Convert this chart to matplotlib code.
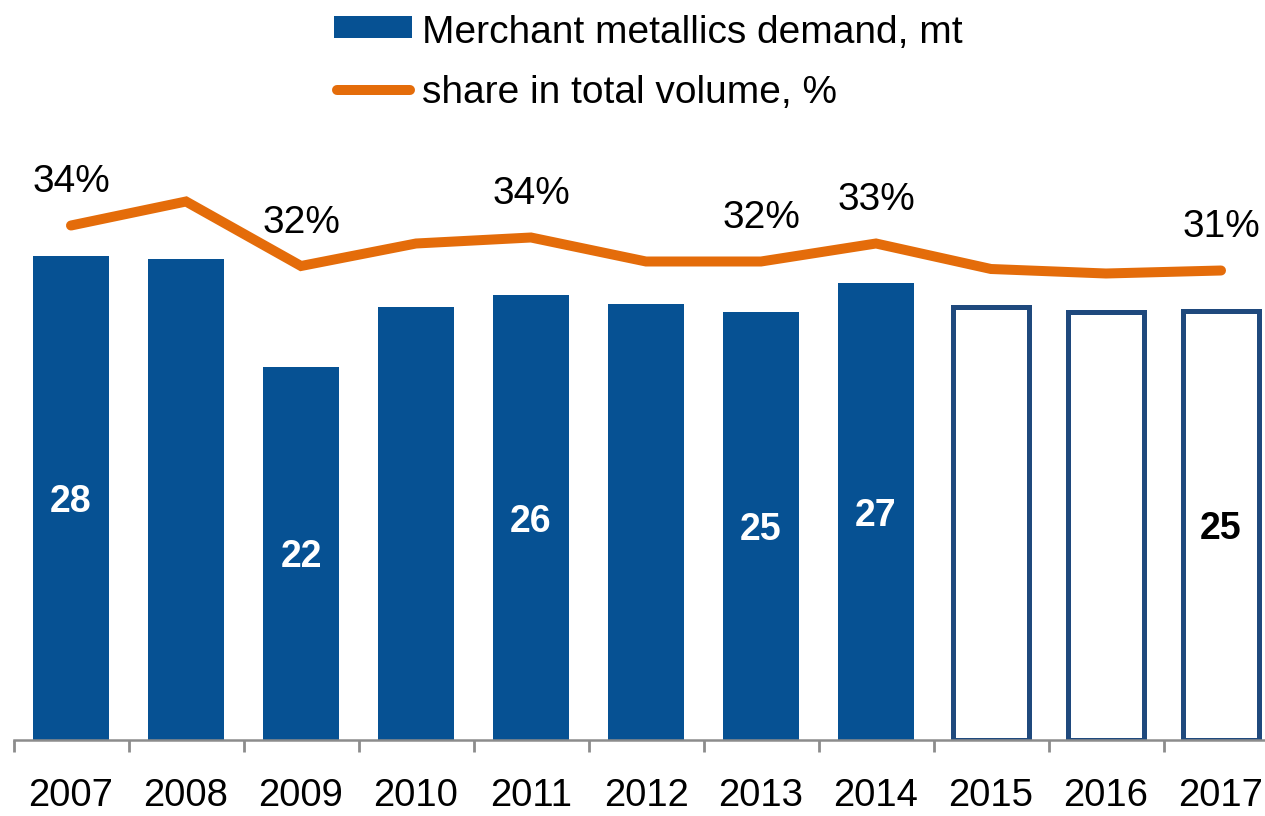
import numpy as np
import matplotlib
matplotlib.use('Agg')
import matplotlib.pyplot as plt
from matplotlib.patches import Rectangle
from matplotlib.lines import Line2D

years = ['2007', '2008', '2009', '2010', '2011', '2012', '2013', '2014', '2015', '2016', '2017']
demand = [28.4, 28.2, 21.9, 25.4, 26.1, 25.6, 25.1, 26.8, 25.4, 25.1, 25.2]
demand_labels = ['28', '', '22', '', '26', '', '25', '27', '', '', '25']
forecast = [False, False, False, False, False, False, False, False, True, True, True]
share = [34.3, 35.9, 31.6, 33.1, 33.5, 31.9, 31.9, 33.1, 31.4, 31.1, 31.3]
share_labels = ['34%', '', '32%', '', '34%', '', '32%', '33%', '', '', '31%']

legend_labels = ['Merchant metallics demand, mt', 'share in total volume, %']

BLUE = '#065193'
EDGE = '#1F497D'
ORANGE = '#E46C0A'
AXIS = '#8C8C8C'
FS = 28

plt.rcParams['font.family'] = ['Liberation Sans', 'DejaVu Sans']

W, H = 1265, 816
fig = plt.figure(figsize=(W / 100, H / 100), dpi=100)
ax = fig.add_axes([13.5 / W, 76 / H, 1265 / W, 596.4 / H])

x = np.arange(len(years))
for i in x:
    if forecast[i]:
        ax.bar(i, demand[i], width=0.66, facecolor='white', edgecolor=EDGE,
               linewidth=3.6, zorder=2)
    else:
        ax.bar(i, demand[i], width=0.66, color=BLUE, linewidth=0, zorder=2)
    if demand_labels[i]:
        ax.text(i, demand[i] / 2, demand_labels[i], ha='center', va='center_baseline',
                fontsize=FS - 1, fontweight='bold',
                color='black' if forecast[i] else 'white', zorder=3)

ax.set_xlim(-0.5, len(years) - 0.5)
ax.set_ylim(0, 35)
ax.set_yticks([])
for s in ['left', 'right', 'top']:
    ax.spines[s].set_visible(False)
ax.spines['bottom'].set_color(AXIS)
ax.spines['bottom'].set_linewidth(1.8)
ax.spines['bottom'].set_zorder(4)
ax.set_xticks(x, years)
ax.set_xticks(np.arange(-0.5, len(years), 1), minor=True)
ax.tick_params(axis='x', which='major', length=0, pad=27, labelsize=FS - 0.5, colors='black')
ax.tick_params(axis='x', which='minor', length=8.6, width=2, color=AXIS, direction='out')

ax2 = ax.twinx()
ax2.plot(x, share, color=ORANGE, linewidth=7.2, solid_capstyle='round',
         solid_joinstyle='miter')
ax2.set_ylim(0, 596.4 / 15)
ax2.set_yticks([])
for s in ['left', 'right', 'top', 'bottom']:
    ax2.spines[s].set_visible(False)
for i in x:
    if share_labels[i]:
        ax2.annotate(share_labels[i], (i, share[i]), xytext=(0, 34),
                     textcoords='offset points', ha='center', va='center_baseline',
                     fontsize=FS, color='black')

# legend
fig.patches.append(Rectangle((334 / W, 1 - 38 / H), 78 / W, 22 / H,
                             transform=fig.transFigure, facecolor=BLUE,
                             edgecolor='none'))
fig.lines.append(Line2D([337 / W, 410 / W], [1 - 90 / H, 1 - 90 / H],
                        transform=fig.transFigure, color=ORANGE,
                        linewidth=7.2, solid_capstyle='round'))
fig.text(422 / W, 1 - 43 / H, legend_labels[0], fontsize=FS, va='baseline', ha='left')
fig.text(422 / W, 1 - 103 / H, legend_labels[1], fontsize=FS, va='baseline', ha='left')

fig.savefig('out.png', dpi=100)
